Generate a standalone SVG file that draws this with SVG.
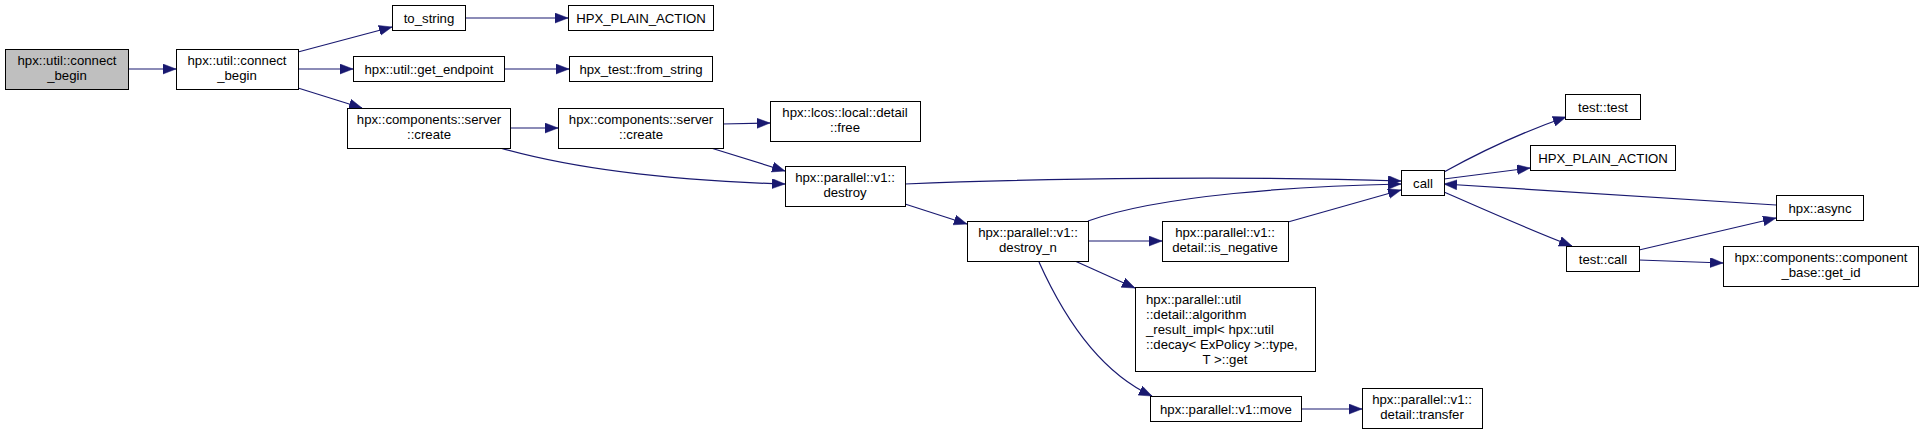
<svg xmlns="http://www.w3.org/2000/svg" width="1924" height="435" viewBox="0 0 1924 435">
<style>
.n rect{fill:#fff;stroke:#000;stroke-width:1}
.n.cur rect{fill:#bfbfbf}
.n text{font-family:"Liberation Sans",Arial,sans-serif;font-size:13.2px;fill:#000;text-anchor:middle}
.n text.l{text-anchor:start}
#edges path{fill:none;stroke:#191970;stroke-width:1.2;marker-end:url(#ah)}
</style>
<defs>
<marker id="ah" markerUnits="userSpaceOnUse" markerWidth="14" markerHeight="11" refX="13" refY="5" orient="auto">
<path d="M0,0 L13,5 L0,10 z" fill="#191970" stroke="#191970" stroke-width="0.5"/>
</marker>
</defs>
<rect width="1924" height="435" fill="#fff"/>
<g id="edges">
<path d="M128,69 L176,69"/>
<path d="M298,52 L392,27"/>
<path d="M298,69 L353,69"/>
<path d="M298,88 L362,108"/>
<path d="M465,18 L568,18"/>
<path d="M504,69 L569,69"/>
<path d="M510,128 L558,128"/>
<path d="M500,148 C560,165 650,180 785,184"/>
<path d="M722,124 L770,123"/>
<path d="M711,148 L785,171"/>
<path d="M905,184 C1050,178 1250,176 1401,181"/>
<path d="M905,204 L967,224"/>
<path d="M1088,221 C1160,195 1300,186 1401,184"/>
<path d="M1088,241 L1162,241"/>
<path d="M1288,222 L1401,190"/>
<path d="M1444,172 C1480,152 1520,133 1566,117"/>
<path d="M1444,179 L1530,168"/>
<path d="M1776,205 L1444,184"/>
<path d="M1444,192 C1490,212 1530,230 1572,246"/>
<path d="M1639,250 L1776,218"/>
<path d="M1639,260 L1723,263"/>
<path d="M1075,261 L1135,288"/>
<path d="M1039,262 C1065,320 1100,372 1152,396"/>
<path d="M1301,409 L1362,409"/>
</g>
<g id="n0" class="n cur"><rect x="5.5" y="49.5" width="123" height="40"/><text x="67" y="65">hpx::util::connect</text><text x="67" y="80">_begin</text></g>
<g id="n1" class="n"><rect x="176.5" y="49.5" width="122" height="40"/><text x="237" y="65">hpx::util::connect</text><text x="237" y="80">_begin</text></g>
<g id="n2" class="n"><rect x="392.5" y="5.5" width="73" height="25"/><text x="429" y="22.5">to_string</text></g>
<g id="n3" class="n"><rect x="568.5" y="5.5" width="145" height="25"/><text x="641" y="22.5">HPX_PLAIN_ACTION</text></g>
<g id="n4" class="n"><rect x="353.5" y="56.5" width="151" height="25"/><text x="429" y="73.5">hpx::util::get_endpoint</text></g>
<g id="n5" class="n"><rect x="569.5" y="56.5" width="143" height="25"/><text x="641" y="73.5">hpx_test::from_string</text></g>
<g id="n6" class="n"><rect x="347.5" y="108.5" width="163" height="40"/><text x="429" y="124">hpx::components::server</text><text x="429" y="139">::create</text></g>
<g id="n7" class="n"><rect x="558.5" y="108.5" width="165" height="40"/><text x="641" y="124">hpx::components::server</text><text x="641" y="139">::create</text></g>
<g id="n8" class="n"><rect x="770.5" y="101.5" width="150" height="40"/><text x="845" y="117">hpx::lcos::local::detail</text><text x="845" y="132">::free</text></g>
<g id="n9" class="n"><rect x="785.5" y="166.5" width="120" height="40"/><text x="845" y="182">hpx::parallel::v1::</text><text x="845" y="197">destroy</text></g>
<g id="n10" class="n"><rect x="967.5" y="221.5" width="121" height="40"/><text x="1028" y="237">hpx::parallel::v1::</text><text x="1028" y="252">destroy_n</text></g>
<g id="n11" class="n"><rect x="1162.5" y="221.5" width="126" height="40"/><text x="1225" y="237">hpx::parallel::v1::</text><text x="1225" y="252">detail::is_negative</text></g>
<g id="n12" class="n"><rect x="1401.5" y="170.5" width="43" height="25"/><text x="1423" y="187.5">call</text></g>
<g id="n13" class="n"><rect x="1565.5" y="94.5" width="75" height="25"/><text x="1603" y="111.5">test::test</text></g>
<g id="n14" class="n"><rect x="1530.5" y="145.5" width="145" height="25"/><text x="1603" y="162.5">HPX_PLAIN_ACTION</text></g>
<g id="n15" class="n"><rect x="1776.5" y="195.5" width="87" height="25"/><text x="1820" y="212.5">hpx::async</text></g>
<g id="n16" class="n"><rect x="1566.5" y="246.5" width="73" height="25"/><text x="1603" y="263.5">test::call</text></g>
<g id="n17" class="n"><rect x="1723.5" y="246.5" width="195" height="40"/><text x="1821" y="262">hpx::components::component</text><text x="1821" y="277">_base::get_id</text></g>
<g id="n18" class="n"><rect x="1135.5" y="287.5" width="180" height="84"/><text class="l" x="1146" y="303.5">hpx::parallel::util</text><text class="l" x="1146" y="318.5">::detail::algorithm</text><text class="l" x="1146" y="333.5">_result_impl&lt; hpx::util</text><text class="l" x="1146" y="348.5">::decay&lt; ExPolicy &gt;::type,</text><text x="1225" y="363.5">T &gt;::get</text></g>
<g id="n19" class="n"><rect x="1150.5" y="396.5" width="151" height="25"/><text x="1226" y="413.5">hpx::parallel::v1::move</text></g>
<g id="n20" class="n"><rect x="1362.5" y="388.5" width="120" height="40"/><text x="1422" y="404">hpx::parallel::v1::</text><text x="1422" y="419">detail::transfer</text></g>
</svg>
